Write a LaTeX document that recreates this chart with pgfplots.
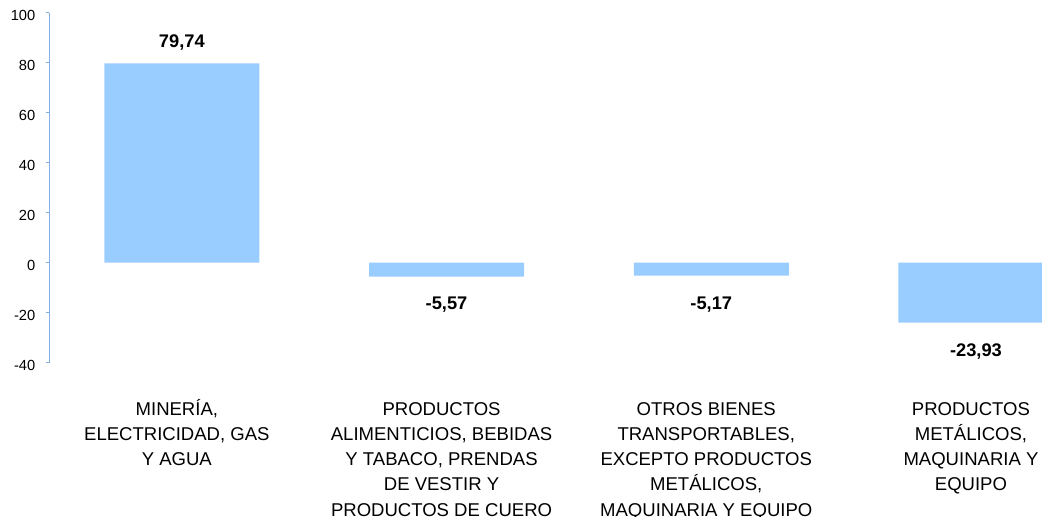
\documentclass[border=0pt]{standalone}
\usepackage{fontspec}
\setmainfont{Liberation Sans}
\usepackage{pgfplots}
\pgfplotsset{compat=1.18}

\definecolor{barblue}{HTML}{99CCFF}
\definecolor{axisblue}{HTML}{85AEE3}

\newcommand\tickfont{\fontsize{11}{13}\selectfont}
\newcommand\catfont{\fontsize{13.9}{18.9}\selectfont}
\newcommand\valfont{\fontsize{13.7}{16}\selectfont\bfseries}

\begin{document}
\begin{tikzpicture}
\begin{axis}[
    scale only axis,
    width=794.1pt, height=262.5pt,
    xmin=-0.5, xmax=3.5,
    ymin=-40, ymax=100,
    clip=false,
    axis lines*=left,
    x axis line style={draw=none},
    y axis line style={draw=axisblue, line width=1.3pt},
    tick align=outside,
    major tick length=2.5pt,
    xtick style={draw=none},
    ytick style={draw=axisblue, line width=1.1pt},
    xtick={0,1,2,3},
    xticklabels={
        {\strut MINERÍA,\\ELECTRICIDAD, GAS\\Y AGUA},
        {\strut PRODUCTOS\\ALIMENTICIOS, BEBIDAS\\Y TABACO, PRENDAS\\DE VESTIR Y\\PRODUCTOS DE CUERO},
        {\strut OTROS BIENES\\TRANSPORTABLES,\\EXCEPTO PRODUCTOS\\METÁLICOS,\\MAQUINARIA Y EQUIPO},
        {\strut PRODUCTOS\\METÁLICOS,\\MAQUINARIA Y\\EQUIPO}},
    x tick label style={font=\catfont, align=center, anchor=north,
        inner sep=0pt, yshift=-23.5pt, xshift=-3.75pt},
    ytick={-40,-20,...,100},
    yticklabels={-40,-20,0,20,40,60,80,100},
    y tick label style={font=\tickfont, inner sep=0pt, xshift=-8pt, yshift=-2pt},
]
\addplot[ybar, bar width=116.25pt, bar shift=0pt, fill=barblue, draw=none]
    coordinates {(0,79.74) (1,-5.57) (2,-5.17) (3,-23.93)};
% value labels, set on their baselines
\addplot[draw=none, no markers, point meta=explicit symbolic,
    nodes near coords,
    every node near coord/.append style={anchor=base, inner sep=0pt, font=\valfont}]
    coordinates {(0,86.2)[79,74] (1,-18.7)[-5,57] (2,-18.7)[-5,17] (3,-37.4)[-23,93]};
\end{axis}
\pgfresetboundingbox
\useasboundingbox (-37.125pt,-115.725pt) rectangle (744.375pt,272.025pt);
\end{tikzpicture}
\end{document}
